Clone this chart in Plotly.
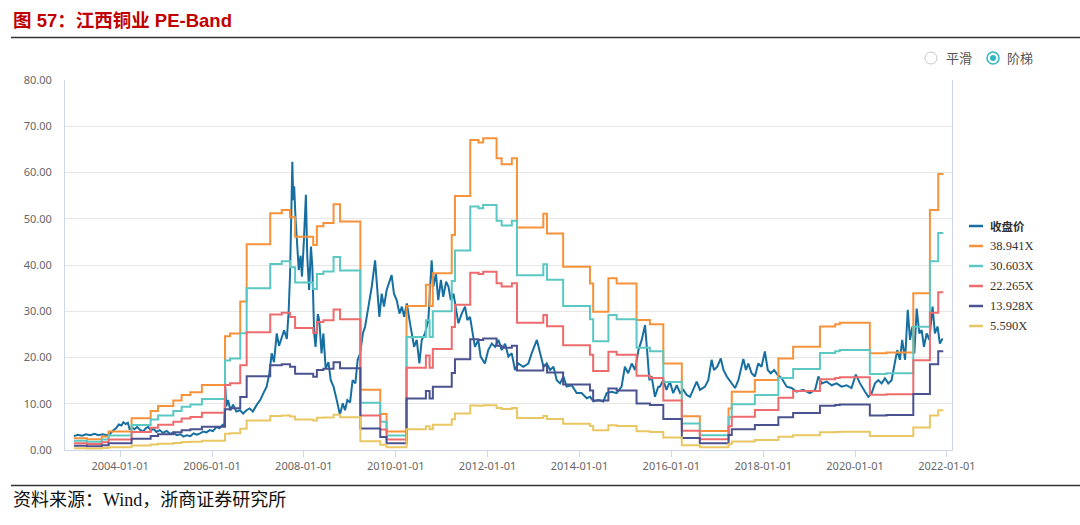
import plotly.graph_objects as go
import pandas as pd

# ---------------- data ----------------
# closing price: decimal year, value
price_years = [
    2002.995, 2003.08, 2003.17, 2003.26, 2003.35, 2003.44, 2003.53, 2003.62, 2003.71, 2003.78,
    2003.85, 2003.92, 2003.97, 2004.03, 2004.07, 2004.12, 2004.17, 2004.21, 2004.26, 2004.31,
    2004.37, 2004.43, 2004.50, 2004.56, 2004.61, 2004.67, 2004.73, 2004.79, 2004.86, 2004.93,
    2005.01, 2005.09, 2005.16, 2005.23, 2005.31, 2005.38, 2005.45, 2005.53, 2005.60, 2005.67,
    2005.74, 2005.81, 2005.88, 2005.95, 2006.02, 2006.10, 2006.16, 2006.23, 2006.265, 2006.29,
    2006.31, 2006.35, 2006.40, 2006.46, 2006.53, 2006.61, 2006.68, 2006.75, 2006.82, 2006.89,
    2006.97, 2007.05, 2007.12, 2007.19, 2007.25, 2007.30, 2007.35, 2007.41, 2007.46, 2007.52,
    2007.57, 2007.63, 2007.67, 2007.70, 2007.73, 2007.75, 2007.77, 2007.79, 2007.82, 2007.86,
    2007.89, 2007.93, 2007.96, 2008.00, 2008.045, 2008.075, 2008.115, 2008.155, 2008.185, 2008.225,
    2008.255, 2008.305, 2008.335, 2008.385, 2008.425, 2008.475, 2008.535, 2008.585, 2008.645, 2008.715,
    2008.785, 2008.845, 2008.895, 2008.945, 2009.005, 2009.06, 2009.12, 2009.17, 2009.225, 2009.283,
    2009.333, 2009.405, 2009.477, 2009.55, 2009.60, 2009.643, 2009.694, 2009.744, 2009.802, 2009.86,
    2009.91, 2009.961, 2010.02, 2010.082, 2010.133, 2010.183, 2010.241, 2010.299, 2010.349, 2010.40,
    2010.457, 2010.515, 2010.566, 2010.638, 2010.71, 2010.746, 2010.782, 2010.818, 2010.876, 2010.926,
    2010.984, 2011.035, 2011.098, 2011.149, 2011.199, 2011.257, 2011.315, 2011.365, 2011.437, 2011.51,
    2011.56, 2011.618, 2011.676, 2011.726, 2011.798, 2011.849, 2011.942, 2012.015, 2012.092, 2012.164,
    2012.237, 2012.309, 2012.381, 2012.453, 2012.525, 2012.597, 2012.669, 2012.777, 2012.886, 2012.958,
    2013.072, 2013.144, 2013.216, 2013.288, 2013.36, 2013.433, 2013.505, 2013.577, 2013.649, 2013.721,
    2013.83, 2013.938, 2014.046, 2014.159, 2014.231, 2014.303, 2014.412, 2014.52, 2014.592, 2014.70,
    2014.809, 2014.917, 2014.989, 2015.061, 2015.139, 2015.211, 2015.284, 2015.356, 2015.428, 2015.478,
    2015.522, 2015.572, 2015.644, 2015.716, 2015.752, 2015.824, 2015.896, 2015.968, 2016.041, 2016.119,
    2016.191, 2016.263, 2016.335, 2016.407, 2016.479, 2016.552, 2016.624, 2016.732, 2016.804, 2016.876,
    2016.927, 2016.999, 2017.076, 2017.134, 2017.206, 2017.314, 2017.386, 2017.459, 2017.567, 2017.624,
    2017.675, 2017.747, 2017.819, 2017.891, 2017.963, 2018.036, 2018.099, 2018.164, 2018.236, 2018.309,
    2018.402, 2018.511, 2018.619, 2018.727, 2018.871, 2019.016, 2019.13, 2019.202, 2019.274, 2019.382,
    2019.491, 2019.599, 2019.707, 2019.815, 2019.923, 2020.017, 2020.109, 2020.217, 2020.289, 2020.361,
    2020.434, 2020.506, 2020.578, 2020.65, 2020.722, 2020.794, 2020.867, 2020.917, 2020.975, 2021.025,
    2021.088, 2021.146, 2021.196, 2021.247, 2021.29, 2021.341, 2021.398, 2021.449, 2021.499, 2021.557,
    2021.615, 2021.687, 2021.737, 2021.795, 2021.846, 2021.904,
]
price_values = [
    3.0, 3.3, 3.1, 3.4, 3.2, 3.5, 3.2, 3.4, 3.2, 3.5,
    4.2, 4.8, 5.5, 5.3, 6.0, 5.6, 5.9, 4.4, 4.9, 4.5,
    5.0, 4.4, 4.0, 4.7, 5.0, 4.2, 4.6, 3.9, 4.3, 3.7,
    4.1, 3.5, 3.8, 3.2, 3.4, 2.9, 3.2, 3.0, 3.6, 3.3,
    3.6, 4.0, 3.8, 4.3, 4.1, 5.0, 4.7, 5.4, 5.0, 13.7,
    9.4, 10.8, 8.6, 9.8, 8.3, 8.6, 7.9, 8.6, 9.0, 8.3,
    9.7, 10.8, 12.3, 13.7, 16.6, 20.9, 19.0, 25.2, 22.5, 24.5,
    25.9, 24.0, 30.0, 38.0, 50.0, 62.3, 54.0, 57.0, 50.0, 44.0,
    38.9, 42.0, 37.5, 45.0, 55.2, 41.8, 34.6, 44.0, 39.6, 25.2,
    22.3, 29.4, 28.0, 20.9, 25.2, 17.6, 19.0, 15.1, 13.7, 10.8,
    7.6, 10.1, 8.6, 10.8, 10.3, 15.1, 14.4, 19.5, 20.9, 25.2,
    26.7, 31.0, 35.3, 41.0, 35.3, 28.8, 33.8, 31.0, 34.6, 36.4,
    37.8, 33.8, 32.4, 29.5, 31.0, 28.8, 31.7, 28.1, 25.2, 22.3,
    23.8, 18.7, 23.8, 25.2, 28.1, 35.3, 41.0, 35.3, 38.2, 32.4,
    36.8, 33.1, 36.4, 35.3, 32.4, 33.8, 30.3, 27.4, 29.5, 31.0,
    28.1, 28.8, 25.2, 22.3, 23.8, 20.2, 18.7, 21.6, 23.0, 22.3,
    23.8, 21.6, 23.0, 20.2, 20.9, 17.3, 18.7, 18.0, 18.7, 20.9,
    23.8, 20.9, 18.0, 18.7, 17.3, 18.0, 15.1, 14.4, 15.9, 13.7,
    14.0, 12.3, 12.3, 11.2, 11.5, 10.5, 10.8, 10.5, 12.3, 12.6,
    12.3, 13.7, 18.0, 16.6, 18.7, 17.3, 21.6, 23.8, 27.0, 20.9,
    15.1, 15.9, 11.5, 13.7, 13.7, 15.1, 13.0, 14.8, 12.3, 14.0,
    12.3, 13.0, 11.9, 11.5, 13.0, 14.8, 13.0, 13.7, 15.1, 19.5,
    17.3, 18.0, 19.8, 17.3, 15.9, 14.4, 13.4, 15.1, 19.7, 17.3,
    18.7, 16.6, 15.9, 18.7, 18.0, 21.3, 17.3, 16.6, 17.3, 16.3,
    15.5, 13.7, 13.4, 12.6, 13.0, 12.3, 13.0, 15.9, 14.4, 14.8,
    14.0, 14.4, 13.7, 14.0, 13.4, 16.3, 14.4, 12.6, 11.5, 12.3,
    14.4, 15.1, 14.4, 15.5, 14.4, 15.1, 18.7, 21.6, 19.5, 23.8,
    19.5, 30.3, 23.8, 26.7, 20.9, 30.6, 25.2, 25.9, 22.3, 25.2,
    23.8, 31.0, 25.2, 26.7, 23.0, 24.1,
]

# EPS (TTM) step changes: decimal year where a new value starts, value
eps_years = [
    2002.995, 2003.28, 2003.60, 2003.75, 2004.25, 2004.664, 2004.825, 2005.157, 2005.338, 2005.529,
    2005.78, 2006.283, 2006.393, 2006.615, 2006.755, 2007.268, 2007.52, 2007.70, 2007.81, 2008.204,
    2008.284, 2008.425, 2008.646, 2008.787, 2009.229, 2009.662, 2009.80, 2010.235, 2010.657, 2010.738,
    2010.808, 2011.22, 2011.29, 2011.623, 2011.804, 2011.904, 2012.196, 2012.306, 2012.528, 2012.639,
    2013.212, 2013.292, 2013.644, 2014.228, 2014.298, 2014.63, 2014.81, 2015.243, 2015.534, 2015.826,
    2016.229, 2016.62, 2017.245, 2017.315, 2017.818, 2018.33, 2018.652, 2019.236, 2019.568, 2019.668,
    2020.322, 2020.684, 2021.267, 2021.629, 2021.81,
]
eps_values = [
    0.0647, 0.059, 0.0745, 0.103, 0.176, 0.216, 0.244, 0.275, 0.306, 0.321,
    0.361, 0.632, 0.647, 0.824, 1.143, 1.315, 1.333, 1.292, 1.184, 1.138,
    1.243, 1.261, 1.364, 1.269, 0.334, 0.200, 0.103, 0.799, 0.917, 0.799,
    0.981, 1.194, 1.410, 1.721, 1.708, 1.731, 1.620, 1.587, 1.620, 1.235,
    1.312, 1.202, 1.017, 0.924, 0.768, 0.953, 0.924, 0.722, 0.698, 0.480,
    0.187, 0.105, 0.231, 0.324, 0.388, 0.508, 0.573, 0.686, 0.698, 0.706,
    0.537, 0.542, 0.871, 1.333, 1.533,
]
band_end_year = 2021.92

band_names = ["38.941X", "30.603X", "22.265X", "13.928X", "5.590X"]
band_multiples = [38.941, 30.603, 22.265, 13.928, 5.590]
band_colors = ["#f7923a", "#5cc8c4", "#ee6b6d", "#4b5290", "#e9c762"]
price_name = "收盘价"
price_color = "#166fa0"

y_ticks = [0, 10, 20, 30, 40, 50, 60, 70, 80]


def to_date(y):
    yi = int(y)
    start = pd.Timestamp(year=yi, month=1, day=1)
    end = pd.Timestamp(year=yi + 1, month=1, day=1)
    return start + (end - start) * (y - yi)


price_dates = [to_date(v) for v in price_years]
band_dates = [to_date(v) for v in eps_years] + [to_date(band_end_year)]

fig = go.Figure()
fig.add_trace(go.Scatter(
    x=price_dates, y=price_values, mode="lines", name=price_name,
    line=dict(color=price_color, width=2), showlegend=False,
))
for name, mult, col in zip(band_names, band_multiples, band_colors):
    vals = [e * mult for e in eps_values]
    vals.append(vals[-1])
    fig.add_trace(go.Scatter(
        x=band_dates, y=vals, mode="lines", name=name,
        line=dict(color=col, width=2, shape="hv"), showlegend=False,
    ))

# plot area in pixels: x 65..952, y 80..450
L, R, T, B = 65, 952, 80, 450
W, H = R - L, B - T


def px(xp):
    return (xp - L) / W


def py(yp):
    return (B - yp) / H


shapes = [
    dict(type="line", xref="paper", yref="paper", x0=px(11), x1=px(1080), y0=py(37.5), y1=py(37.5),
         line=dict(color="#333333", width=1.5)),
    dict(type="line", xref="paper", yref="paper", x0=px(11), x1=px(1080), y0=py(485.5), y1=py(485.5),
         line=dict(color="#333333", width=1.5)),
    # radio buttons
    dict(type="circle", xref="paper", yref="paper", xsizemode="pixel", ysizemode="pixel",
         xanchor=px(931), yanchor=py(58), x0=-6, x1=6, y0=-6, y1=6,
         line=dict(color="#c8c8c8", width=1), fillcolor="white"),
    dict(type="circle", xref="paper", yref="paper", xsizemode="pixel", ysizemode="pixel",
         xanchor=px(993), yanchor=py(58), x0=-6, x1=6, y0=-6, y1=6,
         line=dict(color="#2fb5c4", width=1.5), fillcolor="white"),
    dict(type="circle", xref="paper", yref="paper", xsizemode="pixel", ysizemode="pixel",
         xanchor=px(993), yanchor=py(58), x0=-3, x1=3, y0=-3, y1=3,
         line=dict(color="#2fb5c4", width=0), fillcolor="#2fb5c4"),
]

annotations = [
    dict(text="<b>图 57：江西铜业 PE-Band</b>", xref="paper", yref="paper", x=px(11), y=py(20),
         xanchor="left", yanchor="middle", showarrow=False,
         font=dict(family="Liberation Sans, Noto Sans CJK SC", size=18.5, color="#c00000")),
    dict(text="资料来源：Wind，浙商证券研究所", xref="paper", yref="paper", x=px(11), y=py(500),
         xanchor="left", yanchor="middle", showarrow=False,
         font=dict(family="Liberation Serif, Noto Sans CJK SC", size=18, color="#111111")),
    dict(text="平滑", xref="paper", yref="paper", x=px(944), y=py(58),
         xanchor="left", yanchor="middle", showarrow=False,
         font=dict(family="Noto Sans CJK SC", size=13, color="#555555")),
    dict(text="阶梯", xref="paper", yref="paper", x=px(1005), y=py(58),
         xanchor="left", yanchor="middle", showarrow=False,
         font=dict(family="Noto Sans CJK SC", size=13, color="#555555")),
]

# legend (drawn to match the reference's short swatches)
legend_labels = ["<b>" + price_name + "</b>"] + band_names
legend_colors = [price_color] + band_colors
legend_sizes = [11.5] + [12.5] * len(band_names)
for i, (lab, col, sz) in enumerate(zip(legend_labels, legend_colors, legend_sizes)):
    yy = 226 + 20 * i
    shapes.append(dict(type="line", xref="paper", yref="paper", x0=px(969), x1=px(983),
                       y0=py(yy), y1=py(yy), line=dict(color=col, width=2.5)))
    annotations.append(dict(text=lab, xref="paper", yref="paper", x=px(988), y=py(yy),
                            xanchor="left", yanchor="middle", showarrow=False,
                            font=dict(family="Liberation Serif, Noto Sans CJK SC", size=sz,
                                      color="#333333")))

fig.update_layout(
    width=1080, height=525,
    margin=dict(l=L, r=1080 - R, t=T, b=525 - B, pad=0),
    paper_bgcolor="white", plot_bgcolor="white",
    shapes=shapes, annotations=annotations,
    showlegend=False,
    xaxis=dict(
        type="date",
        range=[to_date(2002.80), to_date(2022.11)],
        tick0="2004-01-01", dtick="M24", tickformat="%Y-%m-%d",
        showgrid=False, showline=True, linecolor="#ccd6eb", linewidth=1,
        ticks="outside", ticklen=6, tickcolor="#ccd6eb",
        tickfont=dict(family="Noto Sans, Noto Sans CJK SC", size=11, color="#666666"),
        zeroline=False,
    ),
    yaxis=dict(
        range=[0, 80], tickvals=y_ticks, tickformat=".2f",
        showgrid=True, gridcolor="#e6e6e6", gridwidth=1,
        showline=True, linecolor="#ccd6eb", linewidth=1, mirror=True,
        ticks="", ticklabelstandoff=10,
        tickfont=dict(family="Noto Sans, Noto Sans CJK SC", size=11, color="#666666"),
        zeroline=False,
    ),
)

fig.write_html("out.html", config={"displayModeBar": False},
               post_script="document.body.style.margin='0px';document.body.style.padding='0px';")
